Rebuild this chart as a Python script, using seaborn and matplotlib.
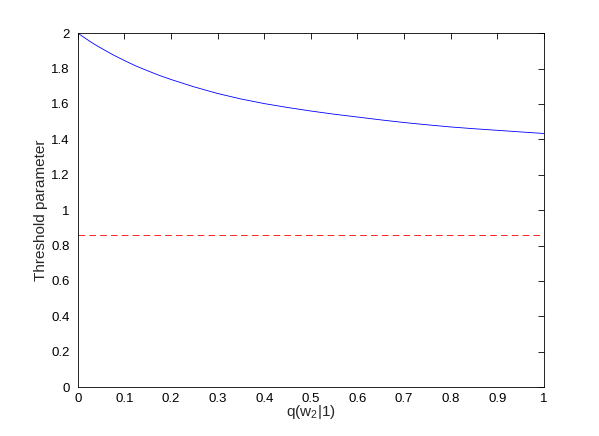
import matplotlib
matplotlib.use("Agg")
import matplotlib.pyplot as plt
import seaborn as sns
import numpy as np
import pandas as pd

# Data
q_values = [0.0, 0.0125, 0.025, 0.0375, 0.05, 0.075, 0.1, 0.125, 0.15, 0.175, 0.2,
            0.25, 0.3, 0.35, 0.4, 0.45, 0.5, 0.55, 0.6, 0.65, 0.7, 0.75, 0.8,
            0.85, 0.9, 0.95, 1.0]
threshold_values = [2.0, 1.977, 1.955, 1.934, 1.915, 1.878, 1.845, 1.814, 1.787,
                    1.761, 1.738, 1.696, 1.659, 1.628, 1.602, 1.580, 1.560, 1.542,
                    1.526, 1.510, 1.495, 1.482, 1.470, 1.460, 1.451, 1.442, 1.433]
const_x = [0.0, 1.0]
const_y = [0.857, 0.857]
x_ticks = [0, 0.1, 0.2, 0.3, 0.4, 0.5, 0.6, 0.7, 0.8, 0.9, 1]
x_tick_labels = ["0", "0.1", "0.2", "0.3", "0.4", "0.5", "0.6", "0.7", "0.8", "0.9", "1"]
y_ticks = [0, 0.2, 0.4, 0.6, 0.8, 1.0, 1.2, 1.4, 1.6, 1.8, 2.0]
y_tick_labels = ["0", "0.2", "0.4", "0.6", "0.8", "1", "1.2", "1.4", "1.6", "1.8", "2"]

sns.set_style("white")
plt.rcParams['font.family'] = ['Liberation Sans', 'DejaVu Sans']
plt.rcParams['mathtext.default'] = 'regular'

fig = plt.figure(figsize=(5.99, 4.36), dpi=100)
ax = fig.add_axes([0.13, 0.112, 0.778, 0.812])

df = pd.DataFrame({"q": q_values, "t": threshold_values})
sns.lineplot(data=df, x="q", y="t", ax=ax, color=(0, 0, 1), linewidth=0.6)
df2 = pd.DataFrame({"q": const_x, "t": const_y})
sns.lineplot(data=df2, x="q", y="t", ax=ax, color=(1, 0, 0), linewidth=0.6,
             dashes=False, linestyle=(0, (8, 5)))

ax.set_xlim(0, 1)
ax.set_ylim(0, 2)
ax.set_xticks(x_ticks)
ax.set_xticklabels(x_tick_labels)
ax.set_yticks(y_ticks)
ax.set_yticklabels(y_tick_labels)
ax.tick_params(direction='in', length=4, width=0.6, top=True, right=True,
               labelsize=9.5, colors='black')
ax.tick_params(axis='y', pad=6)
ax.tick_params(axis='x', pad=4)
for s in ax.spines.values():
    s.set_visible(True)
    s.set_color('black')
    s.set_linewidth(0.6)
ax.set_xlabel(r'q(w$_2$|1)', fontsize=11, labelpad=-1)
ax.set_ylabel('Threshold parameter', fontsize=11, labelpad=2)

fig.savefig("out.png", dpi=100, facecolor='white')
